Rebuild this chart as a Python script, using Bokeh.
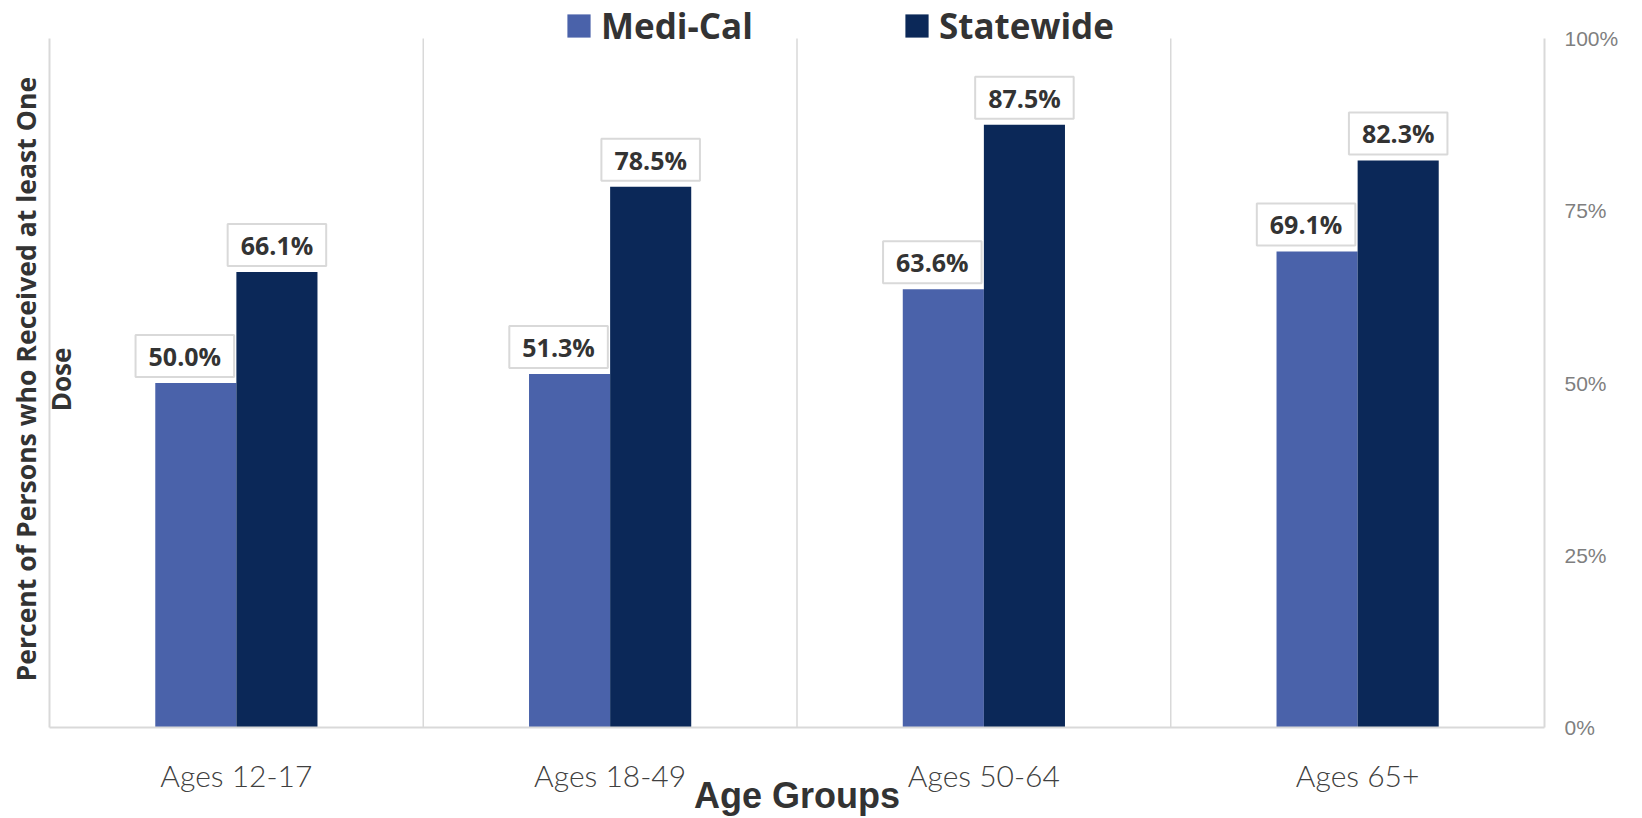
from math import pi
from bokeh.plotting import figure
from bokeh.models import (ColumnDataSource, FactorRange, Range1d, LinearAxis, CategoricalAxis,
                          FixedTicker, PrintfTickFormatter, Label, Legend, LegendItem, Title)
from bokeh.core.properties import value
from bokeh.transform import dodge
from bokeh.embed import file_html
from bokeh.resources import INLINE

# ---- data ----
categories = ["Ages 12-17", "Ages 18-49", "Ages 50-64", "Ages 65+"]
medi_cal = [50.0, 51.3, 63.6, 69.1]
statewide = [66.1, 78.5, 87.5, 82.3]
series_names = ["Medi-Cal", "Statewide"]
y_ticks = [0, 25, 50, 75, 100]
y_title_lines = ["Percent of Persons who Received at least One", "Dose"]
x_title = "Age Groups"

# ---- style ----
MEDI_COLOR = "#4a62aa"
STATE_COLOR = "#0b2858"
GRID = "#d9d9d9"
TXT = "#333333"
BW = 0.217
FRAME_H = 727      # frame runs from canvas top to the 0 baseline
PLOT_H = 689       # pixel height of the 0..100 band
Y_END = y_ticks[-1] * FRAME_H / PLOT_H

src = ColumnDataSource(dict(
    cat=categories, medi=medi_cal, state=statewide,
    medi_lbl=[f"{v:.1f}%" for v in medi_cal],
    state_lbl=[f"{v:.1f}%" for v in statewide],
))

p = figure(width=1642, height=818,
           x_range=FactorRange(*categories), y_range=Range1d(0, Y_END),
           output_backend="svg", toolbar_location=None,
           x_axis_location=None, y_axis_location=None,
           min_border_left=49, min_border_right=98, min_border_top=0, min_border_bottom=91)
p.outline_line_color = None
p.background_fill_color = "white"
p.border_fill_color = "white"
p.grid.visible = False

# category separators
sep_x = list(range(1, len(categories)))
p.segment(x0=sep_x, x1=sep_x, y0=[y_ticks[0]] * len(sep_x), y1=[y_ticks[-1]] * len(sep_x),
          line_color=GRID, line_width=1.5)

r1 = p.vbar(x=dodge("cat", -BW / 2, range=p.x_range), top="medi", width=BW,
            source=src, fill_color=MEDI_COLOR, line_color=None)
r2 = p.vbar(x=dodge("cat", BW / 2, range=p.x_range), top="state", width=BW,
            source=src, fill_color=STATE_COLOR, line_color=None)

lbl_style = dict(text_font=value("Open Sans"), text_font_style="bold", text_font_size="25px",
                 text_color=TXT, text_align="center", text_baseline="bottom",
                 background_fill_color="white", border_line_color=GRID, border_line_width=2,
                 padding=(13, 4), source=src)
p.text(x=dodge("cat", -BW / 2, range=p.x_range), y="medi", text="medi_lbl",
       x_offset=-11, y_offset=-6, **lbl_style)
p.text(x=dodge("cat", BW / 2, range=p.x_range), y="state", text="state_lbl",
       x_offset=0, y_offset=-6, **lbl_style)

# axes
xaxis = CategoricalAxis(axis_line_color=GRID, axis_line_width=2,
                        major_tick_line_color=None, minor_tick_line_color=None,
                        major_tick_out=0, major_tick_in=0, major_label_standoff=29,
                        major_label_text_font="Lato Light", major_label_text_font_size="30px",
                        major_label_text_color="#404040",
                        axis_label=x_title, axis_label_standoff=-21,
                        axis_label_text_font="Liberation Sans", axis_label_text_font_style="bold",
                        axis_label_text_font_size="36px", axis_label_text_color=TXT)
p.add_layout(xaxis, "below")

yaxis = LinearAxis(ticker=FixedTicker(ticks=y_ticks), formatter=PrintfTickFormatter(format="%d%%"),
                   bounds=(y_ticks[0], y_ticks[-1]),
                   axis_line_color=GRID, axis_line_width=2,
                   major_tick_line_color=None, minor_tick_line_color=None,
                   major_tick_out=0, major_tick_in=0, major_label_standoff=20,
                   major_label_text_font="Liberation Sans", major_label_text_font_size="21px",
                   major_label_text_color="#7f7f7f")
p.add_layout(yaxis, "right")

left_axis = LinearAxis(ticker=FixedTicker(ticks=[]), bounds=(y_ticks[0], y_ticks[-1]),
                       axis_line_color=GRID, axis_line_width=2,
                       major_tick_line_color=None, minor_tick_line_color=None,
                       major_tick_out=0, major_tick_in=0, major_label_standoff=0)
p.add_layout(left_axis, "left")

p.add_layout(Title(text=y_title_lines[0], align="left", offset=46, standoff=11,
                   text_font="Open Sans", text_font_style="bold", text_font_size="26.6px",
                   text_color=TXT), "left")

p.add_layout(Label(x=11, y=348, x_units="screen", y_units="screen", text=y_title_lines[1],
                   angle=pi / 2, text_align="center", text_baseline="alphabetic",
                   text_font="Open Sans", text_font_style="bold", text_font_size="26px",
                   text_color=TXT))

# legends
leg_style = dict(orientation="horizontal", glyph_width=29, glyph_height=29, label_standoff=8,
                 padding=0, margin=0, border_line_color=None, background_fill_alpha=0,
                 label_text_font="Open Sans", label_text_font_style="bold",
                 label_text_font_size="35px", label_text_color=TXT)
p.add_layout(Legend(items=[LegendItem(label=series_names[0], renderers=[r1])],
                    location=(515, 678), **leg_style))
p.add_layout(Legend(items=[LegendItem(label=series_names[1], renderers=[r2])],
                    location=(853, 678), **leg_style))

open("out.html", "w").write(file_html(p, INLINE))
